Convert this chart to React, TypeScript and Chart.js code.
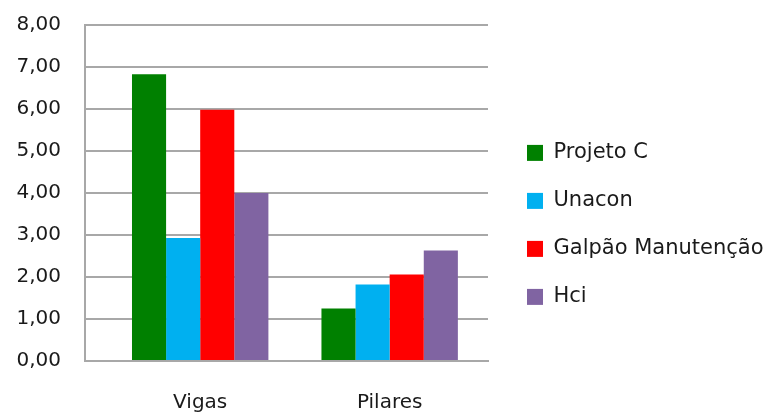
import React, { useEffect, useRef } from "react";
import { Chart, registerables } from "chart.js";

Chart.register(...registerables);

const categories = ["Vigas", "Pilares"];
const seriesNames = ["Projeto C", "Unacon", "Galpão Manutenção", "Hci"];
const projetoC = [6.83, 1.25];
const unacon = [2.93, 1.82];
const galpao = [5.98, 2.06];
const hci = [4.0, 2.63];
const seriesColors = ["#008000", "#00b0f0", "#ff0000", "#8064a2"];
const yTicks = [0, 1, 2, 3, 4, 5, 6, 7, 8];

const FONT = "'DejaVu Sans', sans-serif";
const GRID = "#a8a8a8";

const legendWidthPlugin = {
  id: "legendWidthPatch",
  beforeLayout(chart: any) {
    const lg = chart.legend;
    if (lg && !lg._patched) {
      const f = lg.fit.bind(lg);
      lg.fit = function () {
        f();
        this.width = 267;
      };
      lg._patched = true;
    }
  },
};

export default function App() {
  const ref = useRef<HTMLCanvasElement | null>(null);
  useEffect(() => {
    if (!ref.current) return;
    const values = [projetoC, unacon, galpao, hci];
    const chart = new Chart(ref.current, {
      type: "bar",
      data: {
        labels: categories,
        datasets: seriesNames.map((name, i) => ({
          label: name,
          data: values[i],
          backgroundColor: seriesColors[i],
          borderWidth: 0,
          categoryPercentage: 0.72,
          barPercentage: 1,
        })),
      },
      options: {
        animation: false,
        responsive: true,
        maintainAspectRatio: false,
        layout: { padding: { top: 25, left: 16, right: 0, bottom: 0 } },
        plugins: {
          tooltip: { enabled: false },
          legend: {
            position: "right",
            maxWidth: 400,
            title: { display: true, text: " ", font: { size: 4 }, padding: { top: 6, bottom: 0 } },
            labels: {
              boxWidth: 16,
              boxHeight: 16,
              padding: 27,
              color: "#1a1a1a",
              font: { family: FONT, size: 21 },
            },
          },
        },
        scales: {
          x: {
            grid: { display: false, drawTicks: false },
            border: { display: true, color: GRID, width: 2 },
            ticks: { color: "#1a1a1a", font: { family: FONT, size: 20 }, padding: 30, maxRotation: 0 },
            afterBuildTicks: (s: any) => {
              s._startValue = -0.608;
              s._valueRange = 2.127;
            },
            afterFit: (s: any) => {
              s.height = 53;
              s.paddingLeft = 0;
              s.paddingRight = 0;
            },
          },
          y: {
            min: 0,
            max: 8,
            afterBuildTicks: (s: any) => {
              s.ticks = yTicks.map((v) => ({ value: v }));
            },
            grid: { color: GRID, lineWidth: 2, drawTicks: false },
            border: { display: true, color: GRID, width: 2 },
            ticks: {
              color: "#1a1a1a",
              font: { family: FONT, size: 20 },
              padding: 24,
              callback: (v: any) => Number(v).toFixed(2).replace(".", ","),
            },
            afterFit: (s: any) => {
              s.width = 69;
              s.paddingTop = 0;
              s.paddingBottom = 0;
            },
          },
          yRight: {
            type: "linear",
            position: "right",
            display: true,
            grid: { display: false, drawTicks: false },
            border: { display: false },
            ticks: { display: false },
            afterFit: (s: any) => {
              s.width = 12;
              s.paddingTop = 0;
              s.paddingBottom = 0;
            },
          },
        },
      },
      plugins: [legendWidthPlugin],
    } as any);
    return () => chart.destroy();
  }, []);
  return (
    <div style={{ position: "fixed", left: 0, top: 0, width: 767, height: 414, background: "#fff" }}>
      <canvas ref={ref} />
    </div>
  );
}
